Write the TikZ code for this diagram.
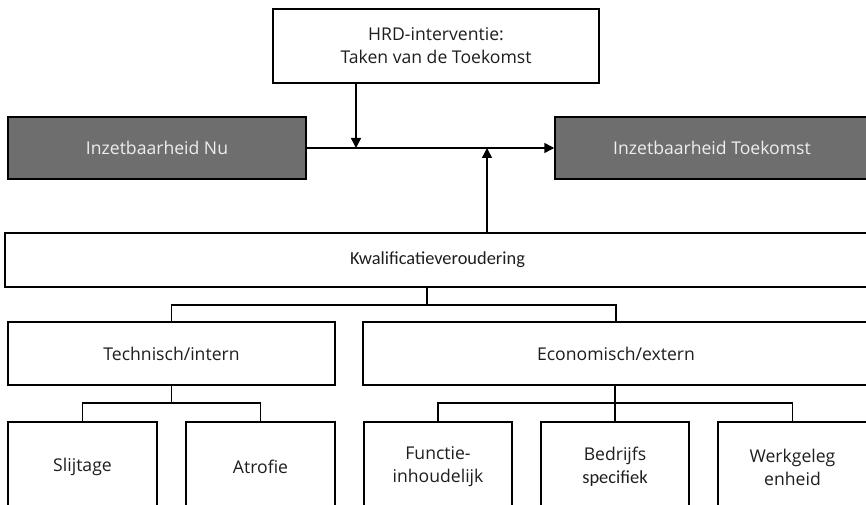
\documentclass[tikz,border=0pt]{standalone}
\usepackage{fontspec}
\setmainfont{Open Sans}
\newfontfamily\calib{Carlito}
\usetikzlibrary{arrows.meta}
\definecolor{boxgray}{HTML}{6E6E6E}
\definecolor{lighttxt}{HTML}{EEEEEE}
\definecolor{darktxt}{HTML}{1E1E1E}
\begin{document}
\begin{tikzpicture}[x=1pt,y=-1pt,
  every node/.style={font=\fontsize{17.6}{23}\selectfont, text=darktxt, align=center},
  box/.style={draw=black, line width=1.5pt, fill=white, inner sep=0pt, minimum width=#1},
  graybox/.style={draw=black, line width=1.5pt, fill=boxgray, text=lighttxt, inner sep=0pt, minimum width=#1, minimum height=62pt},
  link/.style={draw=black, line width=1.5pt},
  arr/.style={link, -{Triangle[length=10pt,width=10pt]}}]
\useasboundingbox (0,0) rectangle (866,505);
\clip (0,0) rectangle (866,505);

% top
\node[box=326pt, minimum height=74pt] (hrd) at (436,46) {HRD-interventie:\\Taken van de Toekomst};
\node[graybox=298pt] (nu) at (157,148) {Inzetbaarheid Nu};
\node[graybox=314pt] (tk) at (712,148) {Inzetbaarheid Toekomst};

% middle
\node[box=865pt, minimum height=54pt, font=\calib\fontsize{18.4}{23}\selectfont] (kw) at (437.5,260) {Kwalificatieveroudering};
\node[box=327pt, minimum height=63pt] (tech) at (171.5,353.5) {Technisch/intern};
\node[box=506pt, minimum height=63pt] (eco) at (616,353.5) {Economisch/extern};

% bottom
\node[box=149pt, minimum height=90pt] (sl) at (82.5,467) {Slijtage};
\node[box=149pt, minimum height=90pt] (at) at (260.5,467) {Atrofie};
\node[box=148pt, minimum height=90pt] (fu) at (438,467) {Functie-\\inhoudelijk};
\node[box=148pt, minimum height=90pt] (be) at (615,467) {Bedrijfs\\{\calib\fontsize{18.4}{23}\selectfont specifiek}};
\node[box=149pt, minimum height=90pt] (we) at (792.5,467) {Werkgeleg\\enheid};

% junction coordinates
\coordinate (j1) at (356,148);
\coordinate (j2) at (487,148);
\coordinate (b1) at (427,305);
\coordinate (b2) at (171.5,403);
\coordinate (b3) at (615,403);

% connectors
\draw[arr] (nu.east) -- (tk.west);
\draw[arr] (j1 |- hrd.south) -- (j1);
\draw[arr] (j2 |- kw.north) -- (j2);

\draw[link] (b1 |- kw.south) -- (b1);
\draw[link] (tech.north) |- (b1) -| (eco.north);

\draw[link] (tech.south) -- (b2);
\draw[link] (sl.north) |- (b2) -| (at.north);

\draw[link] (b3 |- eco.south) -- (be.north);
\draw[link] (fu.north) |- (b3) -| (we.north);
\end{tikzpicture}
\end{document}
